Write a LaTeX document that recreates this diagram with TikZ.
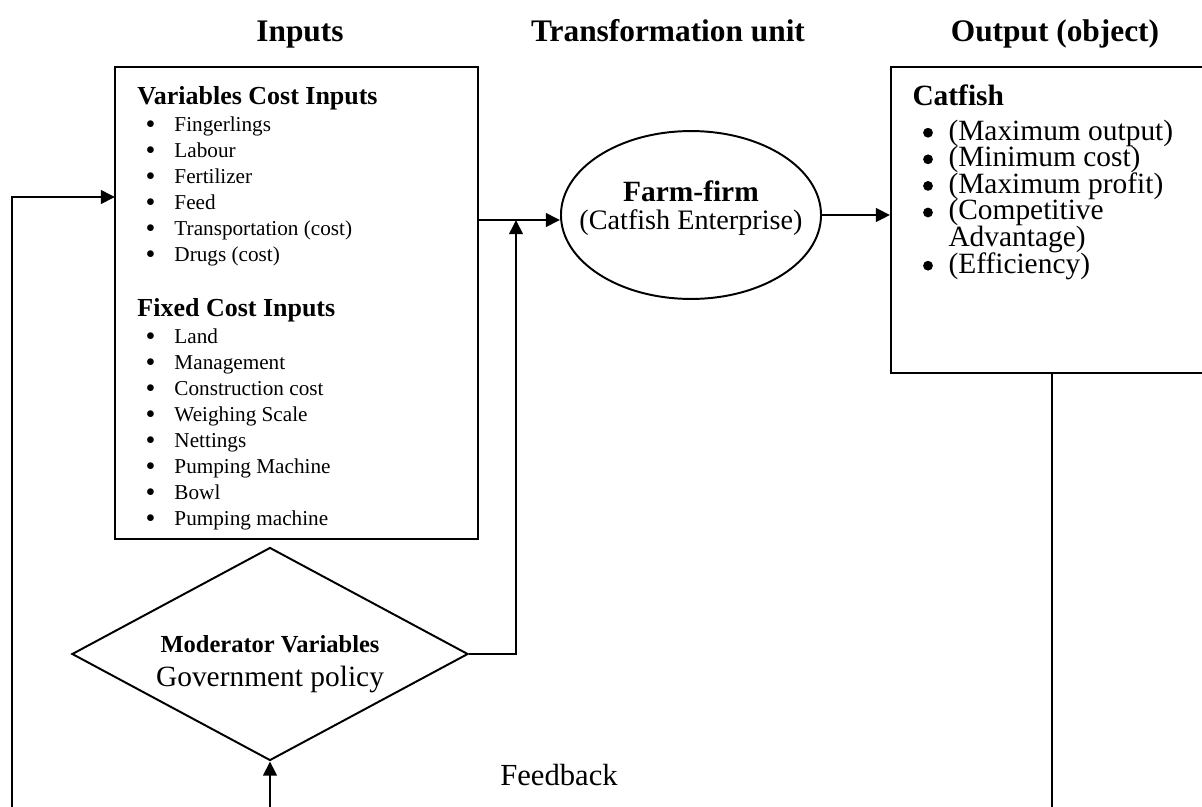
\documentclass[tikz,border=0pt]{standalone}
\usepackage{fontspec}
\setmainfont{Liberation Serif}
\usetikzlibrary{arrows.meta,shapes.geometric,fit}

\begin{document}
\begin{tikzpicture}[x=0.408pt,y=-0.408pt,
  head/.style={font=\fontsize{12.8}{15}\selectfont\bfseries,anchor=base,inner sep=0pt},
  box/.style={draw,line width=0.8pt,inner sep=0pt},
  sub/.style={font=\fontsize{10.6}{12}\selectfont\bfseries,anchor=base west,inner sep=0pt},
  itm/.style={font=\fontsize{8.65}{10}\selectfont,anchor=base west,inner sep=0pt},
  res/.style={font=\fontsize{12}{14}\selectfont,anchor=base west,inner sep=0pt,text height=8.3pt,text depth=2.3pt},
  arr/.style={line width=0.8pt,-{Triangle[length=5.8pt,width=5.6pt]}},
  lien/.style={line width=0.8pt}]
  \useasboundingbox (0,0) rectangle (1202,807);
  \newcommand{\petitpuce}{\llap{\fontsize{11.5}{10}\selectfont\raisebox{-1pt}[0pt][0pt]{\textbullet}\hspace{7.8pt}}}
  \node[head] (hin) at (300,42) {Inputs};
  \node[head] (htr) at (668,42) {Transformation unit};
  \node[head] (hout) at (1055,42) {Output (object)};
  % inputs
  \node[box,fit={(115,67) (478,539)}] (inbox) {};
  \node[sub] (vci) at (137,104) {Variables Cost Inputs};
  \foreach \y/\n/\t in {131/v1/Fingerlings, 157/v2/Labour, 183/v3/Fertilizer, 209/v4/Feed,
                        235/v5/Transportation (cost), 261/v6/Drugs (cost)}
    \node[itm] (\n) at (174,\y) {\petitpuce\t};
  \node[sub] (fci) at (137,316) {Fixed Cost Inputs};
  \foreach \y/\n/\t in {343/f1/Land, 369/f2/Management, 395/f3/Construction cost, 421/f4/Weighing Scale,
                        447/f5/Nettings, 473/f6/Pumping Machine, 499/f7/Bowl, 525/f8/Pumping machine}
    \node[itm] (\n) at (174,\y) {\petitpuce\t};
  % transformation
  \node[ellipse,draw,line width=0.8pt,minimum width=106.1pt,minimum height=68.5pt,inner xsep=-20pt,align=center,
        font=\fontsize{11.5}{11.4}\selectfont] (firm) at (691,215)
        {{\fontsize{12}{11.4}\selectfont\bfseries Farm-firm}\\(Catfish Enterprise)\\[-3pt]\mbox{}};
  % output
  \node[box,fit={(891,67) (1213,373)}] (outbox) {};
  \node[res,font=\fontsize{12}{14}\selectfont\bfseries] (cat) at (912,105) {Catfish};
  \foreach \y/\n/\t in {140/o1/(Maximum output), 166.6/o2/(Minimum cost), 193.2/o3/(Maximum profit),
                        219.8/o4/(Competitive, 273/o5/(Efficiency)}{
    \node[res] (\n) at (948,\y) {\t};
    \fill (928,\y-7.3) circle (2pt);}
  \node[res] (o4b) at (948,246.4) {Advantage)};
  % moderator
  \node[diamond,draw,line width=0.8pt,aspect=1.86,minimum width=161.6pt,minimum height=86.9pt,inner sep=0pt,align=center,
        font=\fontsize{12}{13.9}\selectfont] (mod) at (270,654)
        {\rule{0pt}{15pt}{\fontsize{10}{13.9}\selectfont\bfseries Moderator Variables}\\Government policy};
  \node[font=\fontsize{12.5}{15}\selectfont,anchor=base,inner sep=0pt] (fb) at (559,785) {Feedback};
  % connectors
  \coordinate (jn) at (516,220);
  \coordinate (inlet) at (115,197);
  \coordinate (fbl) at (12,815);
  \draw[arr] (inbox.east |- jn) -- (firm.west |- jn);
  \draw[arr] (firm.east) -- (outbox.west |- firm.east);
  \draw[arr] (mod.east) -| (jn);
  \draw[arr] (fbl) |- (inlet);
  \draw[arr] (mod.south |- fbl) -- (mod.south);
  \draw[lien] (outbox.south) -- (outbox.south |- fbl);
\end{tikzpicture}
\end{document}
